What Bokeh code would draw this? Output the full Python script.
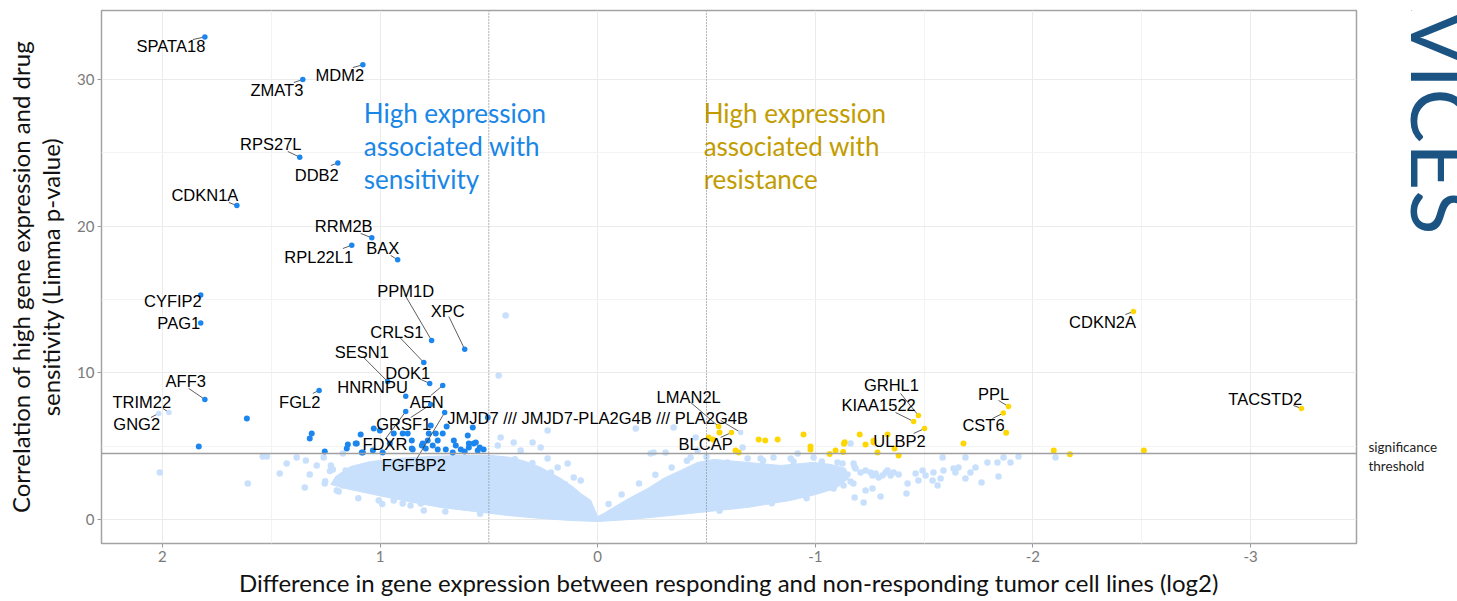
import math
from bokeh.plotting import figure
from bokeh.layouts import row
from bokeh.models import Range1d, FixedTicker, Span
from bokeh.core.properties import value
from bokeh.embed import file_html
from bokeh.resources import INLINE

# ---------------- data ----------------
# x: difference in expression (log2), y: -log10 limma p-value
x_ticks = [2, 1, 0, -1, -2, -3]
y_ticks = [0, 10, 20, 30]
threshold = 4.5
fold_lines = [0.5, -0.5]

# densely packed non-significant genes: outline of the solid cloud
cloud_x = [0, 0.032, 0.078, 0.110, 0.170, 0.262, 0.331, 0.400, 0.491, 0.629, 0.767, 0.905,
           1.043, 1.135, 1.204, 1.226, 1.158, 1.029, 0.873, 0.721, 0.570, 0.413, 0.262, 0.124,
           0, -0.152, -0.381, -0.689, -0.887, -1.001, -1.093, -1.153, -1.139, -1.070, -0.992,
           -0.841, -0.689, -0.533, -0.459, -0.381, -0.303, -0.230, -0.152, -0.073, -0.028]
cloud_y = [0.20, 1.30, 1.77, 2.18, 2.80, 3.55, 3.95, 4.23, 4.36, 4.36, 4.30, 4.16,
           3.95, 3.61, 2.93, 2.39, 2.11, 1.70, 1.23, 0.82, 0.55, 0.27, 0.07, -0.07,
           -0.14, 0.0, 0.34, 0.82, 1.30, 1.70, 2.11, 2.80, 3.48, 3.75, 3.89,
           3.68, 3.89, 4.09, 3.89, 3.34, 2.80, 2.11, 1.50, 0.82, 0.41]

# scattered non-significant genes
ns_x = [2.012, 1.608, 1.539, 1.520, 1.461, 1.429, 1.383, 1.341, 1.346, 1.323, 1.291, 1.259,
        1.254, 1.226, 1.217, 1.199, 1.171, 1.171, 1.148, 1.148, 1.144, 1.121, 1.043, 1.158,
        1.075, 0.983, 0.937, 1.006, 0.896, 0.799, 0.813,
        0.423, 0.455, 0.446, 0.386, 0.299, 0.354, 0.262, 0.459, 0.230, 0.230, 0.184, 0.110,
        0.138, 0.078,
        -0.175, -0.349, -0.450, -0.257, -0.243, -0.312, -0.427, -0.459, -0.689, -0.749,
        -0.808, -0.887, -0.919, -0.992, -0.597, -0.666, -1.162,
        -1.102, -1.125, -1.176, -1.185, -1.208, -1.231, -1.254, -1.263, -1.277, -1.291,
        -1.309, -1.323, -1.332, -1.346, -1.360, -1.383, -1.424, -1.461, -1.474, -1.493,
        -1.507, -1.539, -1.543, -1.562, -1.576, -1.589, -1.585, -1.635, -1.644, -1.658,
        -1.690, -1.690, -1.713, -1.736, -1.764, -1.791, -1.842, -1.837, -1.865, -1.897,
        -1.934, -2.104, -1.222, -1.181, -1.263, -1.300, -1.231, -1.419, -1.084, -1.056,
        -1.038, -1.070, -1.116, -1.148, -1.093, -1.162, -1.130, -1.070,
        # edge of the dense cloud
        1.252, 1.230, 1.190, 1.100, 0.990, 0.860, 0.700, 0.540, 0.380, 0.300, 0.215, 0.150,
        0.095, 0.050, -0.050, -0.110, -0.190, -0.265, -0.340, -0.410, -0.500, -0.620, -0.760,
        -0.900, -1.030, -1.120, -1.180, -1.175, -0.960, -0.800, -0.560]
ns_y = [3.20, 2.45, 4.30, 4.30, 3.13, 3.82, 4.23, 4.02, 2.18, 3.07, 3.68, 4.23,
        2.45, 3.68, 3.41, 1.98, 2.32, 4.50, 3.00, 2.80, 2.32, 2.86, 3.13, 3.34,
        2.11, 1.98, 1.30, 1.30, 1.09, 0.61, 1.09,
        13.90, 9.82, 5.59, 5.25, 5.25, 4.70, 4.91, 5.04, 6.07, 4.16, 3.55, 2.86,
        3.82, 2.66,
        6.20, 6.27, 5.59, 4.57, 4.50, 4.57, 4.23, 4.70, 4.16, 4.16,
        4.23, 4.16, 4.50, 4.23, 3.89, 4.91, 5.18,
        3.89, 3.82, 3.82, 3.48, 3.20, 3.34, 3.20, 3.00, 3.13, 2.86,
        3.00, 3.20, 3.34, 3.00, 3.20, 3.07, 2.45, 3.13, 2.66, 3.34,
        3.00, 2.66, 3.20, 2.32, 2.80, 3.34, 4.23, 3.48, 3.20, 3.55,
        2.80, 4.23, 3.20, 3.55, 2.52, 3.89, 2.93, 3.89, 4.23, 3.89,
        4.30, 4.23, 1.16, 1.50, 2.11, 1.57, 1.98, 1.77, 2.11, 2.18,
        2.45, 2.93, 2.80, 3.07, 3.20, 2.59, 2.32, 3.55,
        2.60, 3.30, 1.90, 1.45, 1.05, 0.95, 0.55, 0.38, 4.10, 3.85, 3.20, 2.40,
        1.70, 1.00, 1.05, 1.70, 2.45, 3.05, 3.55, 4.00, 4.25, 3.70, 4.00,
        3.95, 3.95, 3.30, 3.60, 2.45, 1.45, 1.10, 0.60]

# significant genes, high expression -> sensitivity (unlabelled)
sens_x = [1.612, 1.833, 1.314, 1.323, 1.254, 1.148, 1.153, 1.107, 1.084, 1.089, 1.029, 1.001,
          1.112, 1.079, 1.033, 0.988, 0.955, 0.937, 0.896, 0.873, 0.854, 0.854, 0.808, 0.781,
          0.776, 0.767, 0.744, 0.735, 0.712, 0.694, 0.804, 0.850, 0.790, 0.758, 0.735, 0.698,
          0.666, 0.661, 0.652, 0.629, 0.611, 0.597, 0.592, 0.592, 0.574, 0.570, 0.560, 0.551,
          0.542, 0.524, 0.505]
sens_y = [6.89, 4.98, 5.86, 5.52, 4.64, 5.11, 4.84, 5.18, 4.57, 5.79, 6.20, 6.07,
          5.18, 4.57, 4.70, 4.57, 5.18, 5.86, 5.86, 5.86, 5.39, 4.84, 5.04, 5.39,
          5.86, 6.41, 5.86, 5.39, 5.86, 6.34, 5.18, 4.77, 4.84, 5.04, 4.77, 4.77,
          4.57, 5.39, 5.04, 4.77, 4.64, 5.73, 5.18, 4.91, 6.27, 5.18, 5.25, 4.70,
          4.91, 4.77, 6.95]

# significant genes, high expression -> resistance (unlabelled)
res_x = [-0.510, -0.530, -0.560, -0.634, -0.648, -0.740, -0.770, -0.827, -0.946, -0.978,
         -0.978, -1.066, -1.204, -1.231, -1.268, -1.268, -1.332, -1.286, -1.364, -1.383,
         -1.132, -1.135, -1.128, -1.093, -1.681, -1.877, -2.096, -2.170, -2.510]
res_y = [5.59, 5.45, 5.93, 4.70, 4.57, 5.45, 5.39, 5.45, 5.79, 4.98,
         4.77, 4.47, 5.79, 5.11, 5.39, 5.25, 5.79, 4.57, 4.84, 4.36,
         5.16, 5.27, 4.59, 4.70, 5.18, 5.91, 4.70, 4.45, 4.70]

# labelled genes
genes = ["SPATA18", "MDM2", "ZMAT3", "RPS27L", "DDB2", "CDKN1A", "RRM2B", "RPL22L1", "BAX",
         "CYFIP2", "PAG1", "PPM1D", "XPC", "CRLS1", "SESN1", "DOK1", "HNRNPU", "AEN", "GRSF1",
         "FDXR", "FGFBP2", "AFF3", "TRIM22", "GNG2", "FGL2",
         "JMJD7 /// JMJD7-PLA2G4B /// PLA2G4B", "LMAN2L", "BLCAP", "GRHL1", "KIAA1522",
         "ULBP2", "PPL", "CST6", "CDKN2A", "TACSTD2"]
gene_x = [1.805, 1.079, 1.355, 1.369, 1.194, 1.658, 1.038, 1.130, 0.919,
          1.824, 1.824, 0.763, 0.611, 0.799, 0.965, 0.772, 0.882, 0.712, 0.767,
          0.882, 0.703, 1.805, 1.970, 2.017, 1.280,
          -0.657, -0.556, -0.615, -1.474, -1.452,
          -1.502, -1.888, -1.864, -2.462, -3.234]
gene_y = [32.9, 31.0, 30.0, 24.7, 24.3, 21.4, 19.2, 18.7, 17.7,
          15.3, 13.4, 12.2, 11.6, 10.7, 9.4, 9.27, 8.4, 9.13, 7.84,
          7.36, 7.29, 8.18, 7.29, 7.23, 8.8,
          5.93, 6.34, 5.93, 7.09, 6.68,
          6.2, 7.70, 7.25, 14.18, 7.57]
gene_group = ["sens"] * 22 + ["ns", "ns", "sens", "ns"] + ["res"] * 9

# label placement (text centre) and leader start
lab_x = [1.961, 1.185, 1.474, 1.502, 1.291, 1.805, 1.167, 1.282, 0.988,
         1.952, 1.925, 0.882, 0.689, 0.923, 1.084, 0.873, 1.034, 0.786, 0.891,
         0.978, 0.845, 1.893, 2.095, 2.118, 1.369,
         0.0, -0.418, -0.496, -1.350, -1.291,
         -1.387, -1.819, -1.773, -2.320, -3.068]
lab_y = [32.31, 30.3, 29.3, 25.6, 23.5, 22.1, 20.0, 17.9, 18.5,
         14.9, 13.4, 15.6, 14.2, 12.8, 11.4, 10.0, 9.0, 7.98, 6.48,
         5.11, 3.68, 9.41, 7.98, 6.48, 7.98,
         6.95, 8.38, 5.11, 9.2, 7.77,
         5.32, 8.52, 6.41, 13.43, 8.18]
seg_x0 = [1.860, 1.125, 1.396, 1.424, 1.226, 1.695, 1.089, 1.171, 0.951,
          1.824, 1.824, 0.887, 0.684, 0.909, 1.075, 0.822, 0.882, 0.767, 0.859,
          0.974, 0.836, 1.879, 1.998, 2.053, 1.309,
          -0.565, -0.427, -0.565, -1.392, -1.369,
          -1.452, -1.842, -1.814, -2.425, -3.197]
seg_y0 = [32.72, 30.81, 29.79, 25.09, 24.13, 21.61, 19.50, 18.47, 18.0,
          15.3, 13.4, 15.34, 13.84, 12.41, 11.04, 9.61, 8.4, 8.45, 6.95,
          5.52, 4.02, 8.93, 7.57, 6.95, 8.59,
          6.75, 7.98, 5.59, 8.59, 7.29,
          5.86, 8.11, 6.88, 13.97, 7.77]

sens_text = ["High expression", "associated with", "sensitivity"]
res_text = ["High expression", "associated with", "resistance"]
note_y = [27.68, 25.43, 23.18]
threshold_text = ["significance", "threshold"]
threshold_text_y = [5.04, 3.75]

# ---------------- styling ----------------
C_NS = "#c8e0fc"
C_SENS = "#1c86ee"
C_RES = "#ffd700"
group_color = {"ns": C_NS, "sens": C_SENS, "res": C_RES}

Y0, Y1 = -1.64, 34.7
p = figure(width=1364, height=601, output_backend="svg", toolbar_location=None,
           x_range=Range1d(2.28, -3.487), y_range=Range1d(Y0, Y1),
           min_border_left=101, min_border_right=8, min_border_top=10, min_border_bottom=58)
p.background_fill_color = "white"
p.border_fill_color = "white"
p.outline_line_color = "#a3a3a3"
p.outline_line_width = 1.5

p.xaxis.ticker = FixedTicker(ticks=x_ticks, minor_ticks=[-2.5, -1.5, -0.5, 0.5, 1.5])
p.yaxis.ticker = FixedTicker(ticks=y_ticks, minor_ticks=[5, 15, 25])
p.xaxis.major_label_overrides = {t: str(t) for t in x_ticks}
for ax in (p.xaxis, p.yaxis):
    ax.axis_line_color = None
    ax.major_tick_line_color = "#9a9a9a"
    ax.major_tick_out = 4
    ax.major_tick_in = 0
    ax.minor_tick_line_color = None
    ax.major_label_text_font = "Lato"
    ax.major_label_text_font_size = "15px"
    ax.major_label_text_color = "#7a7a7a"
    ax.axis_label_text_font = "Lato"
    ax.axis_label_text_font_style = "normal"
    ax.axis_label_text_color = "#111111"
p.xaxis.major_label_standoff = 3
p.yaxis.major_label_standoff = 3
p.xaxis.axis_label = "Difference in gene expression between responding and non-responding tumor cell lines (log2)"
p.xaxis.axis_label_text_font_size = "24px"
p.xaxis.axis_label_standoff = 3
p.yaxis.axis_label = "Correlation of high gene expression and drug\nsensitivity (Limma p-value)"
p.yaxis.axis_label_text_font_size = "24px"
p.yaxis.axis_label_text_line_height = 1.05
p.yaxis.axis_label_standoff = 9

p.xgrid.grid_line_color = "#ebebeb"
p.ygrid.grid_line_color = "#ebebeb"
p.xgrid.minor_grid_line_color = "#f3f3f3"
p.ygrid.minor_grid_line_color = "#f3f3f3"

# cloud and points
p.patch(cloud_x, cloud_y, fill_color=C_NS, line_color=C_NS, line_width=1)
p.scatter(ns_x, ns_y, size=6.5, fill_color=C_NS, line_color=None)
p.scatter(sens_x, sens_y, size=6, fill_color=C_SENS, line_color=None)
p.scatter(res_x, res_y, size=6, fill_color=C_RES, line_color=None)

# thresholds
p.add_layout(Span(location=threshold, dimension="width", line_color="#a0a0a0", line_width=1.6))
for fl in fold_lines:
    p.add_layout(Span(location=fl, dimension="height", line_color="#6f6f6f",
                      line_width=0.9, line_dash="1 2"))

# labelled genes
p.segment(x0=seg_x0, y0=seg_y0, x1=gene_x, y1=gene_y, line_color="#333333", line_width=0.8)
p.scatter(gene_x, gene_y, size=5.5, fill_color=[group_color[g] for g in gene_group],
          line_color=None)
p.text(x=lab_x, y=lab_y, text=genes, text_align="center", text_baseline="middle",
       text_font=value("Liberation Sans"), text_font_size=value("16.5px"), text_color="black")

# annotations
p.text(x=[1.075] * 3, y=note_y, text=sens_text, text_align="left", text_baseline="middle",
       text_font=value("Lato"), text_font_size=value("26px"), text_color="#1a86e6")
p.text(x=[-0.487] * 3, y=note_y, text=res_text, text_align="left", text_baseline="middle",
       text_font=value("Lato"), text_font_size=value("26px"), text_color="#c29c00")

# right-hand strip: threshold caption and cropped logo (same vertical scale)
side = figure(width=93, height=601, output_backend="svg", toolbar_location=None,
              x_range=Range1d(0, 93), y_range=Range1d(Y0, Y1 + 10 / 14.67),
              x_axis_type=None, y_axis_type=None,
              min_border_left=0, min_border_right=0, min_border_top=0, min_border_bottom=58)
side.outline_line_color = None
side.xgrid.visible = False
side.ygrid.visible = False
side.border_fill_color = "white"
side.text(x=[4, 4], y=threshold_text_y, text=threshold_text, text_align="left",
          text_baseline="middle", text_font=value("Lato"), text_font_size=value("13.5px"),
          text_color="#222222")
side.text(x=[78], y=[19.8], text=["SERVICES"], angle=-math.pi / 2, text_align="right",
          text_baseline="middle", text_font=value("Lato"), text_font_size=value("82px"),
          text_color="#1b5483")

layout = row(p, side, spacing=0)
open("out.html", "w").write(file_html(layout, INLINE))
